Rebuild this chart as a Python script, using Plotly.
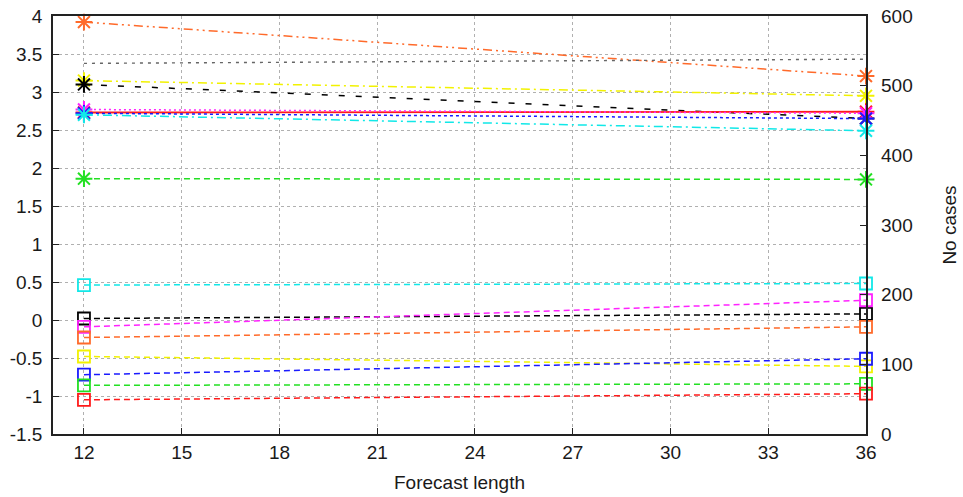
import plotly.graph_objects as go

forecast_length = [12, 36]

# Left-axis series plotted with asterisk markers
star_names = ["orange", "yellow", "black", "red", "magenta", "blue", "cyan", "green"]
star_values = {
    "orange": [3.92, 3.21],
    "yellow": [3.15, 2.95],
    "black": [3.10, 2.65],
    "red": [2.73, 2.74],
    "magenta": [2.77, 2.72],
    "blue": [2.72, 2.65],
    "cyan": [2.70, 2.49],
    "green": [1.86, 1.85],
}

# Left-axis series plotted with open square markers
square_names = ["cyan", "black", "magenta", "orange", "yellow", "blue", "green", "red"]
square_values = {
    "cyan": [0.46, 0.48],
    "black": [0.02, 0.08],
    "magenta": [-0.09, 0.26],
    "orange": [-0.23, -0.09],
    "yellow": [-0.48, -0.61],
    "blue": [-0.72, -0.51],
    "green": [-0.86, -0.84],
    "red": [-1.05, -0.97],
}

# Right-axis series: number of cases
no_cases = [532, 538]

x_ticks = [12, 15, 18, 21, 24, 27, 30, 33, 36]
y_ticks = [-1.5, -1, -0.5, 0, 0.5, 1, 1.5, 2, 2.5, 3, 3.5, 4]
y2_ticks = [0, 100, 200, 300, 400, 500, 600]

colors = {
    "orange": "#ff6a2a",
    "yellow": "#f2f200",
    "black": "#000000",
    "red": "#ff1a1a",
    "magenta": "#ff22ff",
    "blue": "#1a1aff",
    "cyan": "#11e8e8",
    "green": "#22e022",
}
star_dash = {
    "orange": "9px,4px,2px,4px,2px,4px",
    "yellow": "9px,4px,2px,4px",
    "black": "6px,11px",
    "red": "solid",
    "magenta": "2px,3px",
    "blue": "3px,3px",
    "cyan": "9px,4px,2px,4px",
    "green": "6px,4px",
}

fig = go.Figure()

fig.add_trace(go.Scatter(
    x=forecast_length, y=no_cases, yaxis="y2", mode="lines",
    line=dict(color="#666666", width=1.4, dash="3px,5px"),
    showlegend=False, hoverinfo="skip"))

for n in square_names:
    fig.add_trace(go.Scatter(
        x=forecast_length, y=square_values[n], mode="lines+markers",
        line=dict(color=colors[n], width=1.5, dash="6px,4px"),
        marker=dict(symbol="square-open", size=12, color=colors[n],
                    line=dict(width=1.8, color=colors[n])),
        cliponaxis=False, showlegend=False))

for n in star_names:
    fig.add_trace(go.Scatter(
        x=forecast_length, y=star_values[n], mode="lines+markers",
        line=dict(color=colors[n], width=1.5 if n != "red" else 1.8, dash=star_dash[n]),
        marker=dict(symbol="asterisk-open", size=14, color=colors[n],
                    line=dict(width=2, color=colors[n])),
        cliponaxis=False, showlegend=False))

font = dict(family="Liberation Sans, Arial, Helvetica, sans-serif", size=19, color="#1a1a1a")
fig.update_layout(
    width=963, height=497,
    margin=dict(l=53, r=97, t=16, b=63, autoexpand=False),
    paper_bgcolor="white", plot_bgcolor="white",
    font=font,
    xaxis=dict(
        range=[11.05, 36], tickvals=x_ticks, ticktext=[str(v) for v in x_ticks],
        ticks="inside", ticklen=6, tickcolor="#222", tickwidth=1.2,
        showgrid=True, gridcolor="#b0b0b0", griddash="dot", gridwidth=1,
        showline=True, linecolor="#222", linewidth=1.5, mirror=True,
        zeroline=False, automargin=False,
        title=dict(text="Forecast length", font=dict(size=19), standoff=14),
    ),
    yaxis=dict(
        range=[-1.5, 4], tickvals=y_ticks, ticktext=[("%g" % v) for v in y_ticks],
        ticks="inside", ticklen=6, tickcolor="#222", tickwidth=1.2,
        showgrid=True, gridcolor="#b0b0b0", griddash="dot", gridwidth=1,
        showline=True, linecolor="#222", linewidth=1.5, mirror=True,
        zeroline=False, automargin=False, ticklabelstandoff=5,
    ),
    yaxis2=dict(
        range=[0, 600], tickvals=y2_ticks, overlaying="y", side="right",
        ticks="inside", ticklen=6, tickcolor="#222", tickwidth=1.2,
        showgrid=False, zeroline=False, showline=False, automargin=False,
        ticklabelstandoff=14,
        title=dict(text="No cases", font=dict(size=19), standoff=30),
    ),
)

fig.write_html("out.html", config={"displayModeBar": False},
               post_script="document.body.style.margin='0';")
